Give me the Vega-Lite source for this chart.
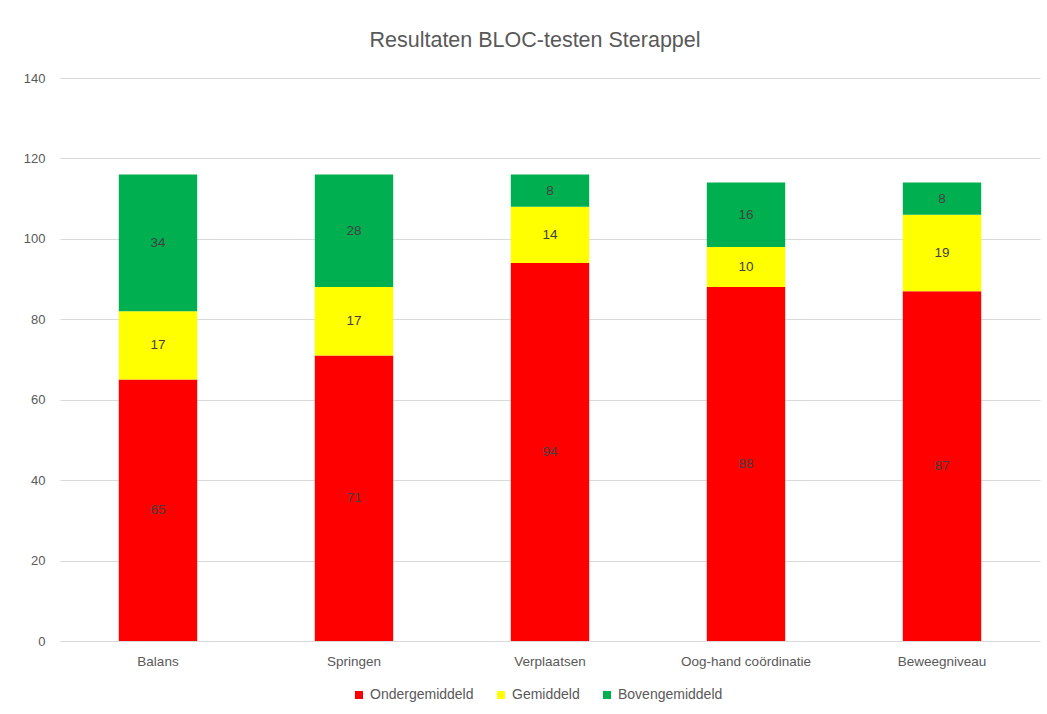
{
  "$schema": "https://vega.github.io/schema/vega-lite/v6.json",
  "width": 980,
  "height": 563,
  "autosize": {"type": "none"},
  "padding": {"left": 60, "top": 78, "right": 7, "bottom": 73},
  "background": "white",
  "title": {
    "text": "Resultaten BLOC-testen Sterappel",
    "fontSize": 21.5,
    "font": "Liberation Sans",
    "fontWeight": "normal",
    "color": "#595959",
    "anchor": "middle",
    "offset": 21,
    "dx": -15
  },
  "data": {
    "values": [
      {"test": "Balans", "niveau": "Ondergemiddeld", "volgorde": 1, "aantal": 65},
      {"test": "Balans", "niveau": "Gemiddeld", "volgorde": 2, "aantal": 17},
      {"test": "Balans", "niveau": "Bovengemiddeld", "volgorde": 3, "aantal": 34},
      {"test": "Springen", "niveau": "Ondergemiddeld", "volgorde": 1, "aantal": 71},
      {"test": "Springen", "niveau": "Gemiddeld", "volgorde": 2, "aantal": 17},
      {"test": "Springen", "niveau": "Bovengemiddeld", "volgorde": 3, "aantal": 28},
      {"test": "Verplaatsen", "niveau": "Ondergemiddeld", "volgorde": 1, "aantal": 94},
      {"test": "Verplaatsen", "niveau": "Gemiddeld", "volgorde": 2, "aantal": 14},
      {"test": "Verplaatsen", "niveau": "Bovengemiddeld", "volgorde": 3, "aantal": 8},
      {"test": "Oog-hand coördinatie", "niveau": "Ondergemiddeld", "volgorde": 1, "aantal": 88},
      {"test": "Oog-hand coördinatie", "niveau": "Gemiddeld", "volgorde": 2, "aantal": 10},
      {"test": "Oog-hand coördinatie", "niveau": "Bovengemiddeld", "volgorde": 3, "aantal": 16},
      {"test": "Beweegniveau", "niveau": "Ondergemiddeld", "volgorde": 1, "aantal": 87},
      {"test": "Beweegniveau", "niveau": "Gemiddeld", "volgorde": 2, "aantal": 19},
      {"test": "Beweegniveau", "niveau": "Bovengemiddeld", "volgorde": 3, "aantal": 8}
    ]
  },
  "transform": [
    {"stack": "aantal", "groupby": ["test"], "sort": [{"field": "volgorde", "order": "ascending"}], "as": ["y0", "y1"]},
    {"calculate": "(datum.y0 + datum.y1) / 2", "as": "ymid"}
  ],
  "encoding": {
    "x": {
      "field": "test",
      "type": "nominal",
      "sort": ["Balans", "Springen", "Verplaatsen", "Oog-hand coördinatie", "Beweegniveau"],
      "scale": {"paddingInner": 0.6, "paddingOuter": 0.3},
      "axis": {
        "title": null,
        "labelAngle": 0,
        "domain": false,
        "ticks": false,
        "labelPadding": 13,
        "labelFontSize": 13.5,
        "labelFont": "Liberation Sans",
        "labelColor": "#595959"
      }
    }
  },
  "layer": [
    {
      "mark": {"type": "bar"},
      "encoding": {
        "y": {
          "field": "y0",
          "type": "quantitative",
          "scale": {"domain": [0, 140]},
          "axis": {
            "title": null,
            "values": [0, 20, 40, 60, 80, 100, 120, 140],
            "domain": false,
            "ticks": false,
            "labelPadding": 15,
            "labelFontSize": 13,
            "labelFont": "Liberation Sans",
            "labelColor": "#595959",
            "gridColor": "#D9D9D9",
            "gridWidth": 1
          }
        },
        "y2": {"field": "y1"},
        "color": {
          "field": "niveau",
          "type": "nominal",
          "scale": {
            "domain": ["Ondergemiddeld", "Gemiddeld", "Bovengemiddeld"],
            "range": ["#FF0000", "#FFFF00", "#00B050"]
          },
          "legend": {
            "title": null,
            "orient": "none",
            "legendX": 292,
            "legendY": 610,
            "direction": "horizontal",
            "symbolType": "square",
            "symbolSize": 64,
            "symbolStrokeWidth": 0,
            "labelFontSize": 14,
            "labelFont": "Liberation Sans",
            "labelColor": "#595959",
            "columnPadding": 20,
            "labelOffset": 4
          }
        }
      }
    },
    {
      "mark": {"type": "text", "fontSize": 13.5, "font": "Liberation Sans", "color": "#404040"},
      "encoding": {
        "y": {"field": "ymid", "type": "quantitative"},
        "text": {"field": "aantal", "type": "quantitative"}
      }
    }
  ],
  "config": {
    "view": {"stroke": null}
  }
}
